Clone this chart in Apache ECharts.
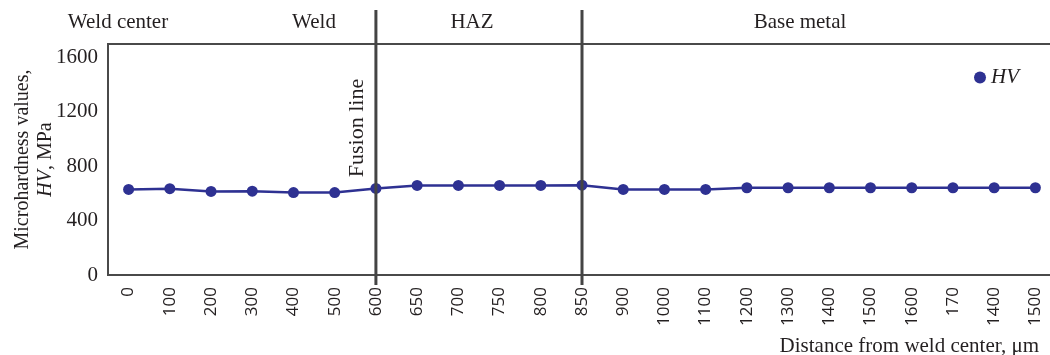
<!DOCTYPE html>
<html><head><meta charset="utf-8">
<script src="https://cdn.jsdelivr.net/npm/echarts@6/dist/echarts.min.js"></script>
<style>html,body{margin:0;padding:0;background:#fff}#c{width:1050px;height:355px}</style>
</head><body><div id="c"></div>
<script>
const categories = ['0','100','200','300','400','500','600','650','700','750','800','850','900','1000','1100','1200','1300','1400','1500','1600','170','1400','1500'];
const hvValues = [630,635,615,617,607,607,637,659,659,659,659,661,630,630,630,642,642,642,642,642,642,642,642];
const yTicks = [0,400,800,1200,1600];
const zoneLabels = ['Weld center','Weld','HAZ','Base metal'];
const fusionIndex = 6;
const hazEndIndex = 11;

const SERIF = '"Liberation Serif","Times New Roman",serif';
const SANS = '"Open Sans","Liberation Sans",sans-serif';
const AX = '#4a4a4a';
const TXT = '#231f20';
const BLUE = '#2e3192';

const chart = echarts.init(document.getElementById('c'), null, {renderer:'canvas'});
chart.setOption({
  animation:false,
  backgroundColor:'#fff',
  grid:{left:108, right:-6, top:44, bottom:80, containLabel:false, outerBoundsMode:'none',
    show:true, borderColor:AX, borderWidth:2, backgroundColor:'transparent'},
  title:{text:'Distance from weld center, μm', right:6, top:331,
    textStyle:{fontFamily:SERIF, fontSize:21, fontWeight:'normal', color:TXT}},
  legend:{right:26, top:62, icon:'circle', itemWidth:12, itemHeight:12, itemGap:10,
    data:['HV'], textStyle:{fontFamily:SERIF, fontSize:21, fontStyle:'italic', color:TXT}},
  xAxis:{type:'category', data:categories, boundaryGap:true,
    axisLine:{lineStyle:{color:AX, width:2}},
    axisTick:{inside:true, length:9, lineStyle:{color:AX, width:1.5}},
    axisLabel:{rotate:90, interval:0, margin:12, fontFamily:SANS, fontSize:17, color:TXT}},
  yAxis:{type:'value', min:0, max:1700, interval:200,
    name:'Microhardness values,\n{i|HV}, MPa', nameLocation:'middle', nameRotate:90, nameGap:51,
    nameMoveOverlap:false,
    nameTextStyle:{fontFamily:SERIF, fontSize:20, color:TXT, lineHeight:23,
      rich:{i:{fontFamily:SERIF, fontSize:20, fontStyle:'italic', color:TXT, lineHeight:23}}},
    axisLine:{show:true, lineStyle:{color:AX, width:2}},
    axisTick:{inside:true, length:9, lineStyle:{color:AX, width:1.5}},
    splitLine:{show:false},
    axisLabel:{margin:10, fontFamily:SERIF, fontSize:21, color:TXT,
      formatter:v => yTicks.indexOf(v) >= 0 ? String(v) : ''}},
  series:[{name:'HV', type:'line', data:hvValues, symbol:'circle', symbolSize:11,
    itemStyle:{color:BLUE}, lineStyle:{color:BLUE, width:2.5}, z:3}]
});

function drawOverlay(){
  const x1 = chart.convertToPixel({xAxisIndex:0}, fusionIndex);
  const x2 = chart.convertToPixel({xAxisIndex:0}, hazEndIndex);
  const yBottom = chart.convertToPixel({yAxisIndex:0}, 0);
  const yTop = chart.convertToPixel({yAxisIndex:0}, 1700);
  const lineStyle = {stroke:'#444', lineWidth:3};
  const zoneStyle = {fontFamily:SERIF, fontSize:21, fill:TXT, align:'center', verticalAlign:'middle'};
  const ty = yTop - 22;
  chart.setOption({graphic:[
    {type:'line', z:10, shape:{x1:x1, y1:10, x2:x1, y2:yBottom+10}, style:lineStyle},
    {type:'line', z:10, shape:{x1:x2, y1:10, x2:x2, y2:yBottom+10}, style:lineStyle},
    {type:'text', x:118, y:ty, style:Object.assign({text:zoneLabels[0]}, zoneStyle)},
    {type:'text', x:314, y:ty, style:Object.assign({text:zoneLabels[1]}, zoneStyle)},
    {type:'text', x:472, y:ty, style:Object.assign({text:zoneLabels[2]}, zoneStyle)},
    {type:'text', x:800, y:ty, style:Object.assign({text:zoneLabels[3]}, zoneStyle)},
    {type:'text', x:x1-19, y:128, rotation:Math.PI/2,
      style:{text:'Fusion line', fontFamily:SERIF, fontSize:22, fill:TXT, align:'center', verticalAlign:'middle'}}
  ]});
}
drawOverlay();
</script></body></html>
